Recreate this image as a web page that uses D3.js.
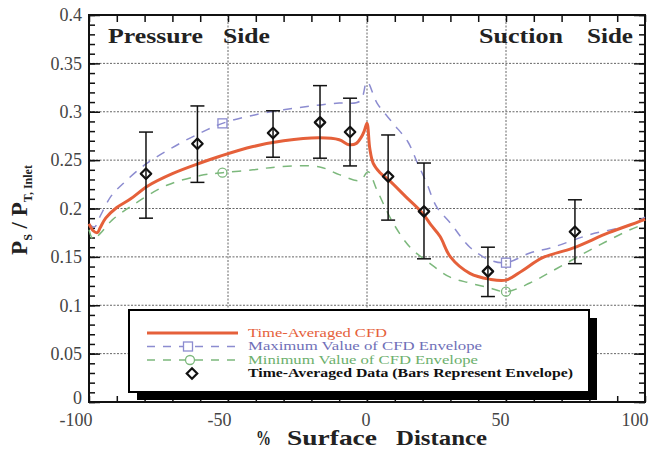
<!DOCTYPE html>
<html>
<head>
<meta charset="utf-8">
<script src="https://cdn.jsdelivr.net/npm/d3@7/dist/d3.min.js"></script>
<style>
  html, body { margin: 0; padding: 0; background: #fff; }
  svg { display: block; }
  svg text { font-family: "Liberation Serif", "Times New Roman", Times, serif !important; }
</style>
</head>
<body>
<svg id="chart" width="649" height="449"></svg>
<script>
// Time-averaged CFD static pressure ratio along the blade surface
const cfdX = [-100, -98.5, -97, -96, -94, -90, -85, -79, -70, -60, -52.9, -41, -30, -17, -10, -6.5, -4, -2, -1, 0, 1, 2.2, 4.7, 8, 14, 20, 23, 26.3, 30, 37, 44, 50, 56, 63, 74, 87, 99.3, 100];
const cfdY = [0.184, 0.177, 0.175, 0.180, 0.190, 0.201, 0.210, 0.223, 0.236, 0.247, 0.254, 0.264, 0.270, 0.273, 0.271, 0.266, 0.267, 0.274, 0.280, 0.288, 0.262, 0.247, 0.237, 0.229, 0.212, 0.195, 0.183, 0.171, 0.150, 0.133, 0.127, 0.126, 0.136, 0.149, 0.159, 0.175, 0.188, 0.189];

// Upper bound of the unsteady CFD envelope
const maxX = [-100, -98, -96, -92, -88, -80, -70, -60, -52, -40, -30, -20, -10, -2.5, 0, 3.6, 9.4, 14.7, 18, 21.5, 25, 30, 37, 44, 50, 58.6, 66.9, 80.2, 94.6, 100];
const maxY = [0.184, 0.181, 0.192, 0.213, 0.225, 0.245, 0.263, 0.278, 0.288, 0.297, 0.302, 0.306, 0.309, 0.311, 0.331, 0.309, 0.288, 0.269, 0.248, 0.226, 0.202, 0.185, 0.160, 0.147, 0.144, 0.154, 0.160, 0.173, 0.183, 0.191];

// Lower bound of the unsteady CFD envelope
const minX = [-100, -98.5, -96, -91.7, -84, -72, -60, -52, -41, -32, -17, -10, -2.5, 0.4, 3.6, 9.4, 15.5, 22.7, 29.9, 37, 44, 50, 58.6, 68.3, 80.2, 94.6, 100];
const minY = [0.178, 0.168, 0.174, 0.188, 0.204, 0.224, 0.234, 0.237, 0.240, 0.243, 0.243, 0.235, 0.229, 0.238, 0.219, 0.185, 0.160, 0.143, 0.129, 0.123, 0.118, 0.114, 0.123, 0.138, 0.157, 0.178, 0.184];

// Envelope markers
const maxMarkX = [-52, 50];
const maxMarkY = [0.288, 0.144];
const minMarkX = [-52, 50];
const minMarkY = [0.237, 0.114];

// Time-averaged measured data with envelope bars
const dataX  = [-79.5, -61, -33.8, -16.9, -6.1, 7.6, 20.5, 43.5, 74.8];
const dataY  = [0.236, 0.267, 0.278, 0.289, 0.279, 0.233, 0.197, 0.135, 0.176];
const dataHi = [0.279, 0.306, 0.301, 0.327, 0.314, 0.276, 0.247, 0.160, 0.209];
const dataLo = [0.190, 0.227, 0.253, 0.252, 0.244, 0.188, 0.148, 0.109, 0.143];

// Axis ticks
const xTickLabels = [-100, -50, 0, 50, 100];
const xMinorTicks = d3.range(-100, 101, 10);
const yTickLabels = [0, 0.05, 0.1, 0.15, 0.2, 0.25, 0.3, 0.35, 0.4];
const yMinorTicks = d3.range(0, 41).map(d => d / 100);
const yGrid = [0.05, 0.1, 0.15, 0.2, 0.25, 0.3, 0.35];
const xGrid = [-50, 0, 50];

const legendLabels = [
  "Time-Averaged CFD",
  "Maximum Value of CFD Envelope",
  "Minimum Value of CFD Envelope",
  "Time-Averaged Data (Bars Represent Envelope)"
];

const colRed = "#e5603a", colBlue = "#8c8cd0", colGreen = "#7cb87c";

const svg = d3.select("#chart");
const L = 89, R = 645, T = 15, B = 402;
const x = d3.scaleLinear().domain([-100, 100]).range([L, R]);
const y = d3.scaleLinear().domain([0, 0.4]).range([B, T]);

// Grid lines
const grid = svg.append("g").attr("stroke", "#666").attr("stroke-width", 1).attr("stroke-dasharray", "2,1.5");
grid.selectAll("line.h").data(yGrid).join("line").attr("class", "h")
  .attr("x1", L).attr("x2", R).attr("y1", d => y(d)).attr("y2", d => y(d));
grid.selectAll("line.v").data(xGrid).join("line").attr("class", "v")
  .attr("x1", d => x(d)).attr("x2", d => x(d)).attr("y1", T).attr("y2", B);

// Axes with inward ticks
function styleAxis(g) {
  g.select(".domain").remove();
  g.selectAll(".tick line").attr("stroke", "#111").attr("stroke-width", 1.5);
}
svg.append("g").attr("transform", `translate(${L},0)`)
  .call(d3.axisLeft(y).tickValues(yMinorTicks).tickSize(-6).tickFormat(""))
  .call(styleAxis);
svg.append("g").attr("transform", `translate(${L},0)`)
  .call(d3.axisLeft(y).tickValues(yTickLabels).tickSize(-11).tickPadding(7).tickFormat(d => String(d)))
  .call(styleAxis)
  .call(g => g.selectAll("text").attr("font-size", 18).attr("fill", "#444"))
  .call(g => g.selectAll(".tick").filter(d => d === 0).select("text").attr("dy", "0.1em"));
svg.append("g").attr("transform", `translate(${R},0)`)
  .call(d3.axisRight(y).tickValues(yMinorTicks).tickSize(-6).tickFormat(""))
  .call(styleAxis);
svg.append("g").attr("transform", `translate(${R},0)`)
  .call(d3.axisRight(y).tickValues(yTickLabels).tickSize(-11).tickFormat(""))
  .call(styleAxis);
svg.append("g").attr("transform", `translate(0,${T})`)
  .call(d3.axisTop(x).tickValues(xMinorTicks).tickSize(-7).tickFormat(""))
  .call(styleAxis);
svg.append("g").attr("transform", `translate(0,${B})`)
  .call(d3.axisBottom(x).tickValues(xMinorTicks).tickSize(-6).tickFormat(""))
  .call(styleAxis);
svg.append("g").attr("transform", `translate(0,${B})`)
  .call(d3.axisBottom(x).tickValues(xTickLabels).tickSize(0).tickPadding(0).tickFormat(d => String(d)))
  .call(styleAxis)
  .call(g => g.selectAll("text").attr("font-size", 18).attr("fill", "#444")
    .attr("text-anchor", "end").attr("dx", 3).attr("y", 24).attr("dy", 0));

// Plot frame
svg.append("rect").attr("x", L).attr("y", T).attr("width", R - L).attr("height", B - T)
  .attr("fill", "none").attr("stroke", "#111").attr("stroke-width", 2);

// Curves
const line = d3.line().x(d => x(d[0])).y(d => y(d[1])).curve(d3.curveCatmullRom.alpha(0.5));
svg.append("path").datum(d3.zip(maxX, maxY)).attr("d", line)
  .attr("fill", "none").attr("stroke", colBlue).attr("stroke-width", 1.5).attr("stroke-dasharray", "9,8");
svg.append("path").datum(d3.zip(minX, minY)).attr("d", line)
  .attr("fill", "none").attr("stroke", colGreen).attr("stroke-width", 1.5).attr("stroke-dasharray", "9,8");
svg.append("path").datum(d3.zip(cfdX, cfdY)).attr("d", line)
  .attr("fill", "none").attr("stroke", colRed).attr("stroke-width", 3);

// Envelope markers
svg.selectAll("rect.maxm").data(d3.zip(maxMarkX, maxMarkY)).join("rect").attr("class", "maxm")
  .attr("x", d => x(d[0]) - 4.5).attr("y", d => y(d[1]) - 4.5).attr("width", 9).attr("height", 9)
  .attr("fill", "none").attr("stroke", colBlue).attr("stroke-width", 1.3);
svg.selectAll("circle.minm").data(d3.zip(minMarkX, minMarkY)).join("circle").attr("class", "minm")
  .attr("cx", d => x(d[0])).attr("cy", d => y(d[1])).attr("r", 4.5)
  .attr("fill", "none").attr("stroke", colGreen).attr("stroke-width", 1.3);

// Data error bars and markers
const bars = svg.append("g").attr("stroke", "#111").attr("stroke-width", 1.5);
dataX.forEach((dx, i) => {
  const cx = x(dx);
  bars.append("line").attr("x1", cx).attr("x2", cx).attr("y1", y(dataHi[i])).attr("y2", y(dataLo[i]));
  bars.append("line").attr("x1", cx - 7).attr("x2", cx + 7).attr("y1", y(dataHi[i])).attr("y2", y(dataHi[i]));
  bars.append("line").attr("x1", cx - 7).attr("x2", cx + 7).attr("y1", y(dataLo[i])).attr("y2", y(dataLo[i]));
});
const diamond = d3.symbol().type(d3.symbolDiamond2).size(70);
svg.selectAll("path.dm").data(d3.zip(dataX, dataY)).join("path").attr("class", "dm")
  .attr("d", diamond).attr("transform", d => `translate(${x(d[0])},${y(d[1])})`)
  .attr("fill", "none").attr("stroke", "#111").attr("stroke-width", 2.2).attr("stroke-linejoin", "round");

// Side annotations
function label(txt, px, py, len) {
  svg.append("text").attr("x", px).attr("y", py).attr("font-size", 21).attr("font-weight", "bold")
    .attr("fill", "#222").attr("textLength", len).attr("lengthAdjust", "spacingAndGlyphs").text(txt);
}
label("Pressure", 108, 43, 95);
label("Side", 223, 43, 47);
label("Suction", 479, 43, 84);
label("Side", 587, 43, 46);

// Axis titles
const xt = [["%", 256, 15], ["Surface", 287, 90], ["Distance", 396, 91]];
xt.forEach(([t, px, len]) => {
  svg.append("text").attr("x", px).attr("y", 445).attr("font-size", 22).attr("font-weight", "bold")
    .attr("fill", "#222").attr("textLength", len).attr("lengthAdjust", "spacingAndGlyphs").text(t);
});
const yt = svg.append("text").attr("transform", "translate(27,210) rotate(-90)")
  .attr("text-anchor", "middle").attr("font-weight", "bold").attr("fill", "#222");
yt.append("tspan").attr("font-size", 23).text("P");
yt.append("tspan").attr("font-size", 12).attr("dy", 5).text("S");
yt.append("tspan").attr("font-size", 23).attr("dy", -5).text(" / P");
yt.append("tspan").attr("font-size", 12).attr("dy", 5).text("T, Inlet");

// Legend with drop shadow
const lg = svg.append("g");
const lx = 129, ly = 310, lw = 460, lh = 82;
lg.append("rect").attr("x", lx + 8).attr("y", ly + 8).attr("width", lw).attr("height", lh).attr("fill", "#000");
lg.append("rect").attr("x", lx).attr("y", ly).attr("width", lw).attr("height", lh)
  .attr("fill", "#fff").attr("stroke", "#000").attr("stroke-width", 2);
const rowY = [333, 346.5, 360, 373.5];
const textLen = [139, 234, 230, 325];
const textCol = [colRed, "#7070b8", "#6caf6c", "#111"];
legendLabels.forEach((t, i) => {
  lg.append("text").attr("x", 248).attr("y", rowY[i] + 3.5).attr("font-size", 12.5)
    .attr("fill", textCol[i]).attr("textLength", textLen[i]).attr("lengthAdjust", "spacingAndGlyphs")
    .attr("font-weight", i === 3 ? "bold" : "normal").text(t);
});
lg.append("line").attr("x1", 147).attr("x2", 238).attr("y1", rowY[0]).attr("y2", rowY[0])
  .attr("stroke", colRed).attr("stroke-width", 3);
[[1, colBlue], [2, colGreen]].forEach(([i, c]) => {
  lg.append("line").attr("x1", 147).attr("x2", 238).attr("y1", rowY[i]).attr("y2", rowY[i])
    .attr("stroke", c).attr("stroke-width", 1.5).attr("stroke-dasharray", "8,8");
});
lg.append("rect").attr("x", 188 - 4.5).attr("y", rowY[1] - 4.5).attr("width", 9).attr("height", 9)
  .attr("fill", "#fff").attr("stroke", colBlue).attr("stroke-width", 1.3);
lg.append("circle").attr("cx", 190).attr("cy", rowY[2]).attr("r", 4.5)
  .attr("fill", "#fff").attr("stroke", colGreen).attr("stroke-width", 1.3);
lg.append("path").attr("d", diamond).attr("transform", `translate(192,${rowY[3]})`)
  .attr("fill", "none").attr("stroke", "#111").attr("stroke-width", 2.2);
</script>
</body>
</html>
